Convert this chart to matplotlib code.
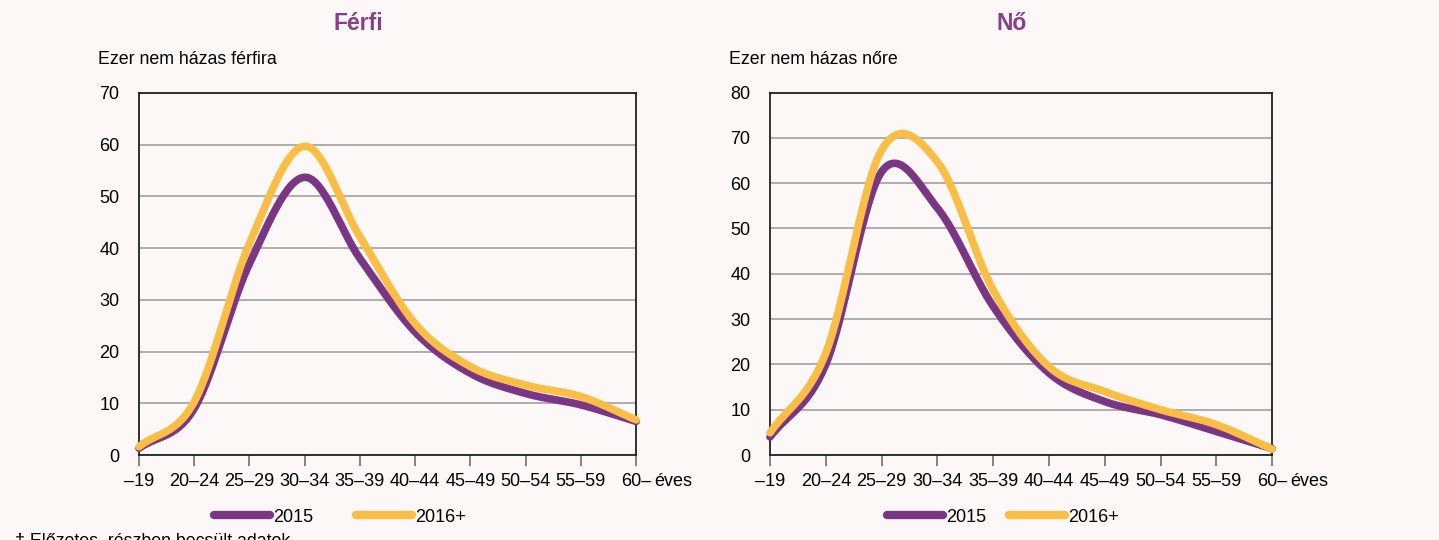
import numpy as np
import matplotlib
matplotlib.use("Agg")
import matplotlib.pyplot as plt
from matplotlib.lines import Line2D

# Age groups and values (thousand per unmarried population)
age_groups = ["–19", "20–24", "25–29", "30–34", "35–39", "40–44",
              "45–49", "50–54", "55–59", "60–"]
series_names = ["2015", "2016+"]

male_2015 = [1.3, 9.0, 37.0, 53.7, 38.0, 23.8, 15.8, 11.9, 9.7, 6.5]
male_2016 = [1.6, 10.3, 40.9, 59.7, 42.2, 25.4, 17.1, 13.5, 11.3, 6.8]

female_2015 = [4.0, 20.0, 62.5, 54.5, 32.8, 18.1, 11.8, 8.9, 5.2, 1.4]
female_2016 = [4.9, 22.5, 67.3, 64.7, 36.4, 19.5, 14.0, 10.0, 6.7, 1.3]

titles = ["Férfi", "Nő"]
ylabels = ["Ezer nem házas férfira", "Ezer nem házas nőre"]
ylims = [70, 80]

BG = "#FBF8F7"
PURPLE = "#7B3585"
YELLOW = "#FBBE45"
TITLE_C = "#8A3C8F"
GRID = "#A8A8A8"

plt.rcParams['font.family'] = ['Liberation Sans', 'DejaVu Sans']


# Excel-style smoothed line (Catmull-Rom through the data points)
def smooth(y, n=30):
    y = np.asarray(y, dtype=float)
    p = np.concatenate([[2 * y[0] - y[1]], y, [2 * y[-1] - y[-2]]])
    xs, ys = [], []
    t = np.linspace(0, 1, n, endpoint=False)
    for i in range(len(y) - 1):
        p0, p1, p2, p3 = p[i], p[i + 1], p[i + 2], p[i + 3]
        c1 = p1 + (p2 - p0) / 6
        c2 = p2 - (p3 - p1) / 6
        b = ((1 - t) ** 3 * p1 + 3 * (1 - t) ** 2 * t * c1
             + 3 * (1 - t) * t ** 2 * c2 + t ** 3 * p2)
        xs.append(i + t)
        ys.append(b)
    xs.append([len(y) - 1])
    ys.append([y[-1]])
    return np.concatenate(xs), np.concatenate(ys)


fig = plt.figure(figsize=(14.39, 5.4), dpi=100, facecolor=BG)

positions = [[0.0966, 0.1574, 0.3454, 0.6704],
             [0.5351, 0.1574, 0.3489, 0.6713]]
data = [(male_2015, male_2016), (female_2015, female_2016)]

for k in range(2):
    ax = fig.add_axes(positions[k])
    ax.set_facecolor(BG)
    s15, s16 = data[k]
    for vals, col in [(s15, PURPLE), (s16, YELLOW)]:
        xs, ys = smooth(vals)
        ax.plot(xs, ys, color=col, lw=5.5, solid_capstyle='round',
                solid_joinstyle='round', clip_on=False, zorder=3)
    ax.set_xlim(0, len(age_groups) - 1)
    ax.set_ylim(0, ylims[k])
    ax.set_yticks(np.arange(0, ylims[k] + 1, 10))
    ax.set_xticks(range(len(age_groups)))
    ax.set_xticklabels(age_groups)
    ax.tick_params(axis='y', length=0, pad=14, labelsize=13)
    ax.tick_params(axis='x', length=8, width=1.2, color='#707070',
                   pad=5, labelsize=13)
    ax.grid(axis='y', color=GRID, lw=1.3)
    ax.set_axisbelow(True)
    for sp in ax.spines.values():
        sp.set_color('#222222')
        sp.set_linewidth(1.3)
    ax.text(1.037, -0.073, "éves", transform=ax.transAxes, fontsize=13,
            ha='left', va='center')
    ax.text(-0.082, 1.092, ylabels[k], transform=ax.transAxes,
            fontsize=12.8, ha='left', va='center')

fig.text(358 / 1439, 1 - 23 / 540, titles[0], color=TITLE_C, fontsize=16.5,
         fontweight='bold', ha='center', va='center')
fig.text(1012 / 1439, 1 - 23 / 540, titles[1], color=TITLE_C, fontsize=16.5,
         fontweight='bold', ha='center', va='center')

handles = [Line2D([], [], color=PURPLE, lw=6, solid_capstyle='round'),
           Line2D([], [], color=YELLOW, lw=6, solid_capstyle='round')]
for cx, cs in [(340, 2.4), (1003, 1.3)]:
    fig.legend(handles, series_names, loc='center',
               bbox_to_anchor=(cx / 1439, 1 - 517 / 540), ncol=2,
               frameon=False, fontsize=13, handlelength=3.1,
               handletextpad=0.15, columnspacing=cs, borderpad=0)

fig.text(15 / 1439, -5 / 540, "† Előzetes, részben becsült adatok.",
         fontsize=12.8, ha='left', va='baseline')

fig.savefig("out.png", dpi=100, facecolor=BG)
